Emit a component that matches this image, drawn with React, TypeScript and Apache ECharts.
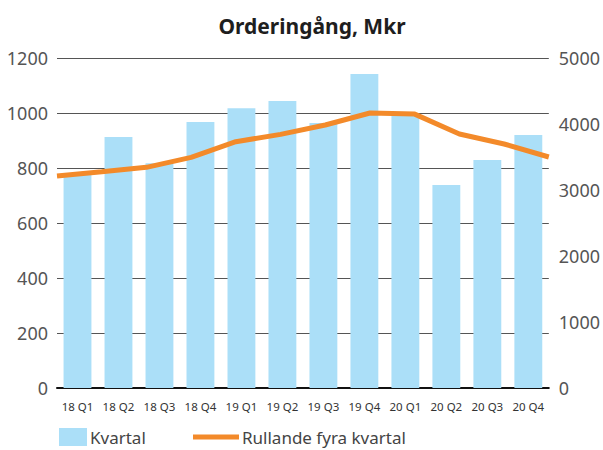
import React, { useEffect, useRef } from "react";
import * as echarts from "echarts";

const categories = ["18 Q1", "18 Q2", "18 Q3", "18 Q4", "19 Q1", "19 Q2", "19 Q3", "19 Q4", "20 Q1", "20 Q2", "20 Q3", "20 Q4"];
const kvartal = [775, 913, 817, 967, 1017, 1044, 964, 1142, 990, 738, 829, 920];
const rullande = [3212, 3277, 3343, 3495, 3732, 3843, 3985, 4167, 4150, 3848, 3697, 3500];
const leftTicks = { min: 0, max: 1200, interval: 200 };
const rightTicks = { min: 0, max: 5000, interval: 1000 };

export default function App() {
  const ref = useRef<HTMLDivElement>(null);
  useEffect(() => {
    if (!ref.current) return;
    const chart = echarts.init(ref.current, null, { renderer: "svg" });
    const font = "'Noto Sans', sans-serif";
    const plain = (v: number) => String(v);
    chart.setOption({
      animation: false,
      backgroundColor: "#ffffff",
      title: {
        text: "Orderingång, Mkr",
        left: 307,
        textAlign: "center",
        top: 10,
        textStyle: { fontFamily: font, fontSize: 21, fontWeight: "bold", color: "#1e1e1e" },
      },
      legend: [
        {
          data: ["Kvartal"],
          left: 59,
          top: 428,
          padding: 0,
          itemWidth: 28,
          itemHeight: 18,
          itemGap: 5,
          icon: "rect",
          textStyle: { fontFamily: font, fontSize: 17, lineHeight: 18, color: "#444", padding: [0, 0, 0, -2] },
        },
        {
          data: ["Rullande fyra kvartal"],
          left: 193,
          top: 428,
          padding: 0,
          itemWidth: 46,
          itemHeight: 5,
          icon: "rect",
          textStyle: { fontFamily: font, fontSize: 17, lineHeight: 18, color: "#444", padding: [0, 0, 0, -2] },
        },
      ],
      grid: { left: 57, right: 51, top: 58, bottom: 62, containLabel: false },
      xAxis: [
        {
          type: "category",
          data: categories,
          axisLine: { lineStyle: { color: "#111", width: 2 } },
          axisTick: { show: false },
          axisLabel: { fontFamily: font, fontSize: 11.5, color: "#333", margin: 12, interval: 0 },
        },
        {
          type: "category",
          data: categories,
          boundaryGap: false,
          show: false,
          position: "bottom",
        },
      ],
      yAxis: [
        {
          type: "value",
          ...leftTicks,
          axisLine: { show: false },
          axisTick: { show: false },
          splitLine: { lineStyle: { color: "#555", width: 1 } },
          axisLabel: { fontFamily: font, fontSize: 18, color: "#555", margin: 9, formatter: plain },
        },
        {
          type: "value",
          ...rightTicks,
          axisLine: { show: false },
          axisTick: { show: false },
          splitLine: { show: false },
          axisLabel: { fontFamily: font, fontSize: 18, color: "#555", margin: 10, formatter: plain },
        },
      ],
      series: [
        {
          name: "Kvartal",
          type: "bar",
          data: kvartal,
          xAxisIndex: 0,
          yAxisIndex: 0,
          barWidth: "68%",
          itemStyle: { color: "#abdff8" },
        },
        {
          name: "Rullande fyra kvartal",
          type: "line",
          data: rullande,
          xAxisIndex: 1,
          yAxisIndex: 1,
          symbol: "none",
          lineStyle: { color: "#f38a2a", width: 5 },
          itemStyle: { color: "#f38a2a" },
        },
      ],
    });
    return () => chart.dispose();
  }, []);
  return <div ref={ref} style={{ width: 603, height: 450, position: "absolute", left: 0, top: 0 }} />;
}
